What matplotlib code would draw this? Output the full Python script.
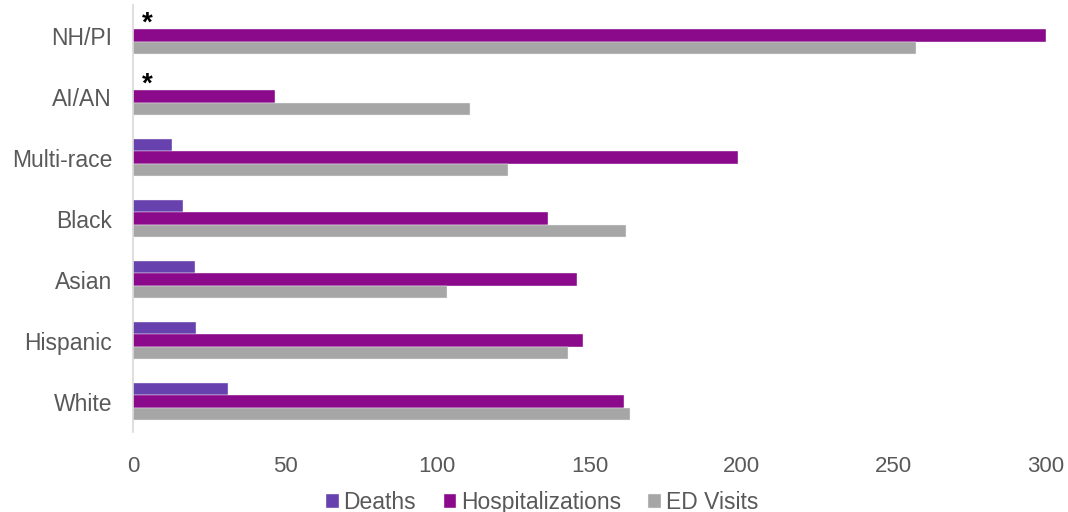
import matplotlib.pyplot as plt
import numpy as np

plt.rcParams['font.family'] = ['Liberation Sans', 'DejaVu Sans']

groups = ["NH/PI", "AI/AN", "Multi-race", "Black", "Asian", "Hispanic", "White"]
deaths = [0, 0, 12.8, 16.4, 20.4, 20.7, 31.2]
hospitalizations = [300, 46.7, 198.8, 136.4, 145.9, 147.9, 161.4]
ed_visits = [257.3, 110.7, 123.2, 162.0, 103.2, 142.9, 163.3]
flagged = ["NH/PI", "AI/AN"]

fig = plt.figure(figsize=(10.68, 5.12), dpi=100)
ax = fig.add_axes([0.1245, 0.156, 0.855, 0.834])

y = np.arange(len(groups))[::-1]
h = 0.205
ax.barh(y + h, deaths, height=h, color="#6741ad", edgecolor="#f2f2f2", linewidth=0.3, label="Deaths")
ax.barh(y, hospitalizations, height=h, color="#8b0a8b", edgecolor="#f2f2f2", linewidth=0.3, label="Hospitalizations")
ax.barh(y - h, ed_visits, height=h, color="#a6a6a6", edgecolor="#f2f2f2", linewidth=0.3, label="ED Visits")

# asterisks where deaths are suppressed
for g in flagged:
    i = groups.index(g)
    ax.text(3, y[i] + h * 0.95, "*", fontsize=20, fontweight="bold", color="black", ha="left", va="center")

ax.set_xlim(0, 300)
ax.set_ylim(-0.5, len(groups) - 0.5)
ax.set_xticks([0, 50, 100, 150, 200, 250, 300])
ax.set_yticks(y)
ax.set_yticklabels(groups)
ax.tick_params(axis="x", length=0, labelsize=16, colors="#595959", pad=17)
ax.tick_params(axis="y", length=0, labelsize=16.5, colors="#595959", pad=15)
for s in ["top", "right", "bottom"]:
    ax.spines[s].set_visible(False)
ax.spines["left"].set_color("#d9d9d9")
ax.spines["left"].set_linewidth(1.2)

ax.legend(loc="center", bbox_to_anchor=(0.448, -0.165), ncol=3, frameon=False, fontsize=16.5,
          handlelength=0.55, handleheight=0.55, handletextpad=0.2, columnspacing=1.2,
          labelcolor="#595959")

fig.savefig("out.png", dpi=100)
